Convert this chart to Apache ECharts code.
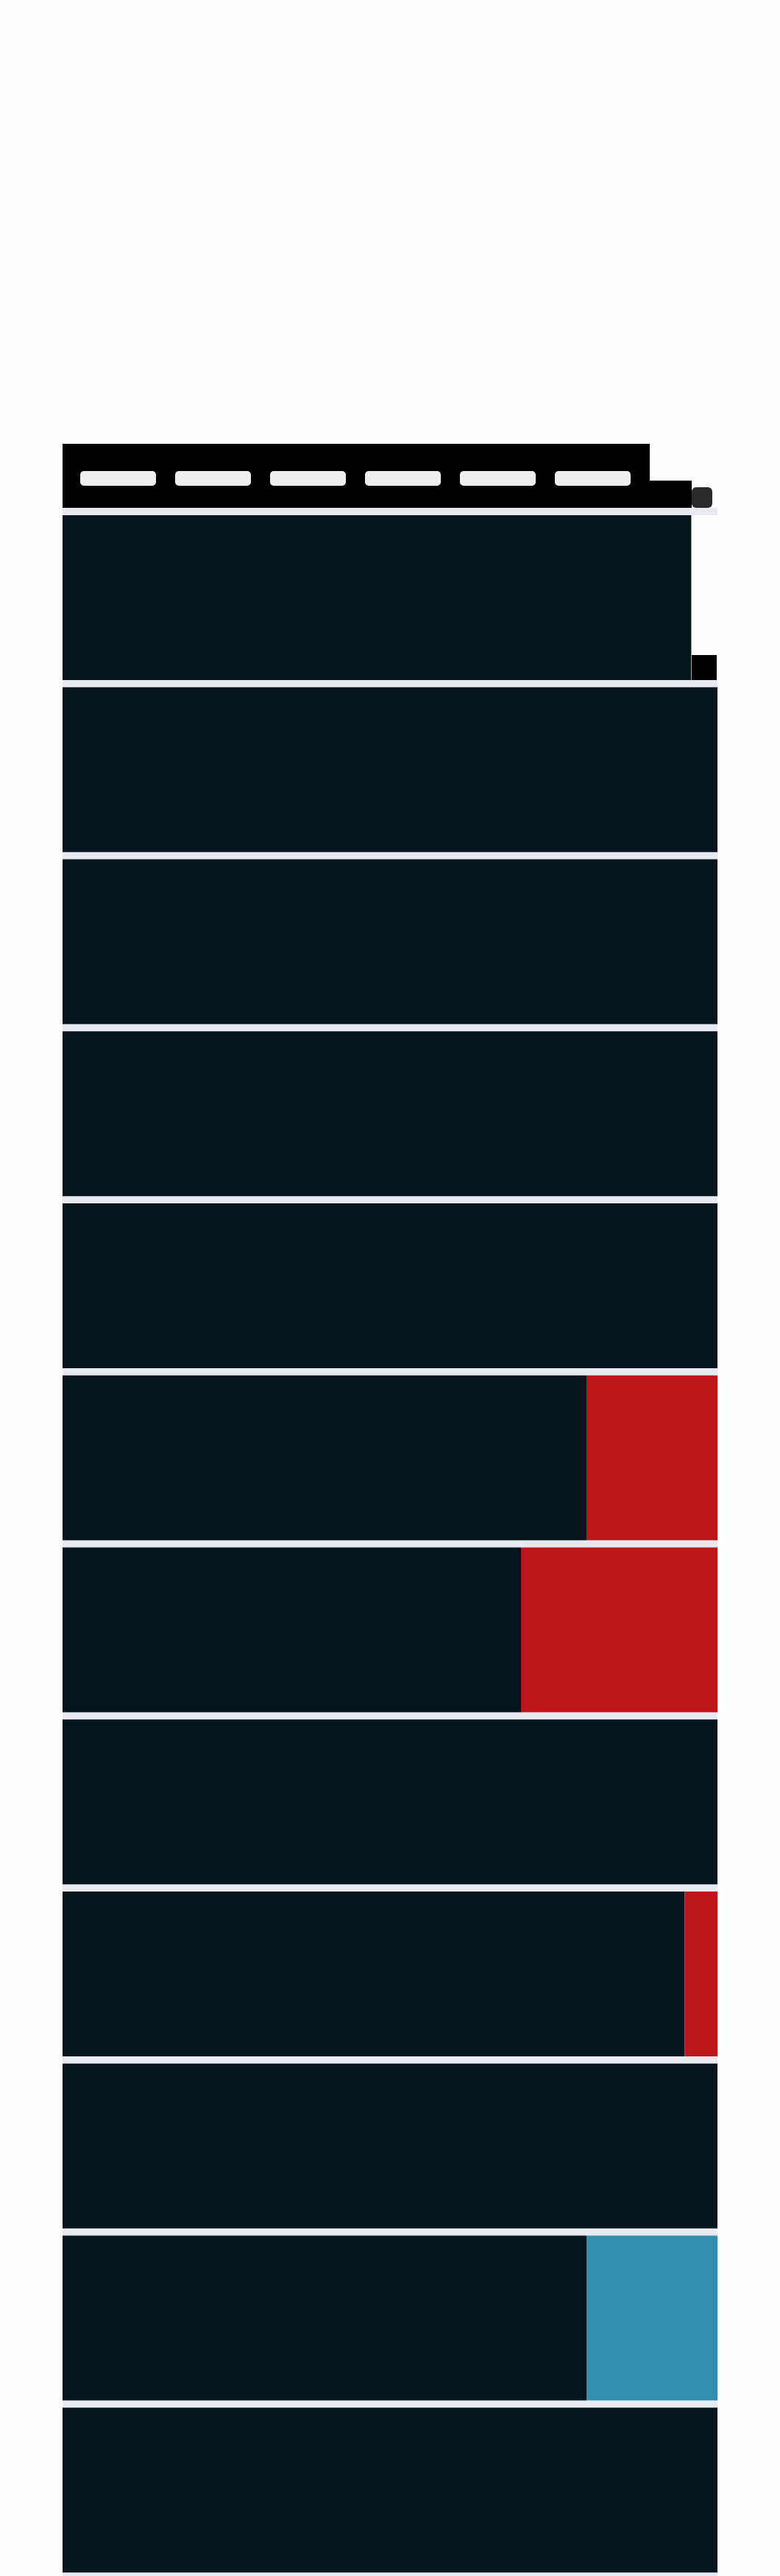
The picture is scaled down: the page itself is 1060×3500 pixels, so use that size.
<!DOCTYPE html>
<html>
<head>
<meta charset="utf-8">
<script src="https://cdn.jsdelivr.net/npm/echarts@6/dist/echarts.min.js"></script>
<style>
  html, body { margin: 0; padding: 0; background: #fdfdfd; }
  #chart { width: 1060px; height: 3500px; }
</style>
</head>
<body>
<div id="chart"></div>
<script>
// ---- data ----
const categories = ['1', '2', '3', '4', '5', '6', '7', '8', '9', '10', '11', '12'];
const darkValues = [96, 100, 100, 100, 100, 80, 70, 100, 95, 100, 80, 100];
const redValues  = [0, 0, 0, 0, 0, 20, 30, 0, 5, 0, 0, 0];
const blueValues = [0, 0, 0, 0, 0, 0, 0, 0, 0, 0, 20, 0];
const axisMin = 0;
const axisMax = 100;

const chart = echarts.init(document.getElementById('chart'), null, { renderer: 'canvas' });

const dash = '{d| }';
const gap = '{g| }';
const headerText = [dash, gap, dash, gap, dash, gap, dash, gap, dash, gap, dash].join('');

chart.setOption({
  backgroundColor: '#fdfdfd',
  animation: false,
  title: {
    left: 85,
    top: 603,
    text: headerText,
    backgroundColor: '#000000',
    padding: [37, 26, 30, 24],
    textStyle: {
      rich: {
        d: { width: 103, height: 20, lineHeight: 20, backgroundColor: '#eeeeee', borderRadius: 5 },
        g: { width: 26, height: 20, lineHeight: 20 }
      }
    }
  },
  graphic: [
    { type: 'rect', left: 883, top: 653, shape: { width: 57, height: 37 }, style: { fill: '#000000' }, z: 1 },
    { type: 'rect', left: 940, top: 662, shape: { width: 28, height: 28, r: 6 }, style: { fill: '#2a2a2a' }, z: 1 },
    { type: 'rect', left: 940, top: 890, shape: { width: 34, height: 34 }, style: { fill: '#000000' }, z: 1 }
  ],
  grid: {
    left: 85,
    right: 85,
    top: 695,
    height: 2808,
    show: false,
    containLabel: false
  },
  xAxis: {
    type: 'value',
    min: axisMin,
    max: axisMax,
    axisLine: { show: false },
    axisTick: { show: false },
    axisLabel: { show: false },
    splitLine: { show: false }
  },
  yAxis: {
    type: 'category',
    data: categories,
    inverse: true,
    axisLine: { show: false },
    axisTick: { show: false },
    axisLabel: { show: false },
    splitLine: { show: true, lineStyle: { color: '#e8eaf0', width: 10 } }
  },
  series: [
    {
      name: 'dark', type: 'bar', stack: 'total', data: darkValues,
      barWidth: 224, itemStyle: { color: '#06151c' }, silent: true
    },
    {
      name: 'red', type: 'bar', stack: 'total', data: redValues,
      barWidth: 224, itemStyle: { color: '#bc151b' }, silent: true
    },
    {
      name: 'blue', type: 'bar', stack: 'total', data: blueValues,
      barWidth: 224, itemStyle: { color: '#328fb0' }, silent: true
    }
  ]
});
</script>
</body>
</html>
